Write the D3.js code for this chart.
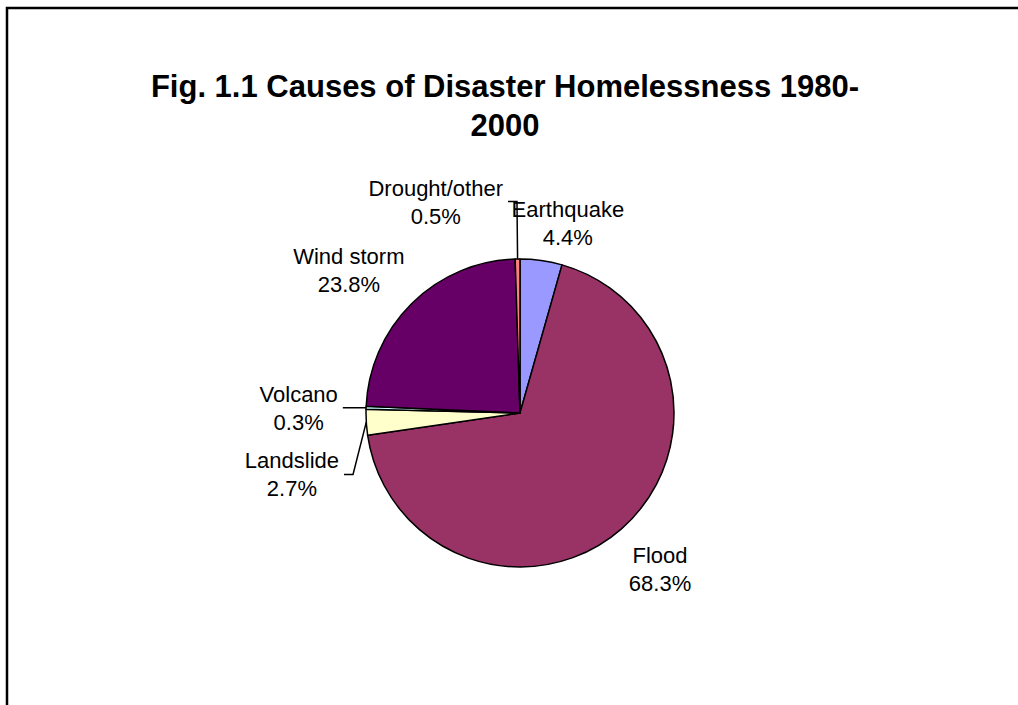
<!DOCTYPE html>
<html>
<head>
<meta charset="utf-8">
<script src="https://cdn.jsdelivr.net/npm/d3@7"></script>
<style>
  html, body { margin: 0; background: #fff; overflow: hidden; }
  svg { display: block; }
  text { font-family: "Liberation Sans", Arial, sans-serif; fill: #000; }
</style>
</head>
<body>
<div id="chart"></div>
<script>
// datos del gráfico
const causes = ['Earthquake', 'Flood', 'Landslide', 'Volcano', 'Wind storm', 'Drought/other'];
const shares = [4.4, 68.3, 2.7, 0.3, 23.8, 0.5];
const sliceColors = ['#9999FF', '#993366', '#FFFFCC', '#CCFFFF', '#660066', '#FF8080'];
const titleLines = ['Fig. 1.1 Causes of Disaster Homelessness 1980-', '2000'];

// ajustes de las etiquetas (relativos al arco exterior)
const labelNudge = [[19, 17], [2, -2], [-19, 49], [-12, 2], [-24, 6], [-81, -2]];
const hasLeader = [false, false, true, true, false, true];

var width = 1018, height = 705;
var cx = 520, cy = 413, radius = 154;

var svg = d3.select('#chart').append('svg')
  .attr('width', width)
  .attr('height', height);

// marco
svg.append('path')
  .attr('d', 'M7,' + height + ' V8 H' + width)
  .attr('fill', 'none')
  .attr('stroke', '#000')
  .attr('stroke-width', 2.5);

// título
svg.append('text')
  .attr('x', 504)
  .attr('text-anchor', 'middle')
  .style('font-size', '31px')
  .style('font-weight', 'bold')
  .selectAll('tspan')
  .data(titleLines)
  .enter().append('tspan')
  .attr('x', 505)
  .attr('y', (d, i) => 97 + i * 39)
  .text(d => d);

var pie = d3.pie().sort(null).value(d => d);
var arcs = pie(shares);

var arc = d3.arc().innerRadius(0).outerRadius(radius);
var edgeArc = d3.arc().innerRadius(radius).outerRadius(radius);
var labelArc = d3.arc().innerRadius(radius * 1.36).outerRadius(radius * 1.36);

var g = svg.append('g').attr('transform', 'translate(' + cx + ',' + cy + ')');

g.selectAll('path.slice')
  .data(arcs)
  .enter().append('path')
  .attr('class', 'slice')
  .attr('d', arc)
  .attr('fill', (d, i) => sliceColors[i])
  .attr('stroke', '#000')
  .attr('stroke-width', 1.5)
  .attr('stroke-linejoin', 'round');

// etiquetas
var labels = g.selectAll('text.lbl')
  .data(arcs)
  .enter().append('text')
  .attr('class', 'lbl')
  .attr('text-anchor', 'middle')
  .style('font-size', '22px')
  .each(function(d, i) {
    var c = labelArc.centroid(d);
    var x = c[0] + labelNudge[i][0];
    var y = c[1] + labelNudge[i][1];
    var t = d3.select(this);
    t.append('tspan').attr('x', x).attr('y', y - 6).text(causes[i]);
    t.append('tspan').attr('x', x).attr('y', y + 22).text(shares[i].toFixed(1) + '%');
    d.lx = x; d.ly = y;
  });

// líneas guía
labels.each(function(d, i) {
  if (!hasLeader[i]) return;
  var box = this.getBBox();
  var right = box.x + box.width;
  var p = edgeArc.centroid(d);
  var pts = [p, [right + 14, d.ly], [right + 5, d.ly]];
  g.append('path')
    .attr('d', d3.line()(pts))
    .attr('fill', 'none')
    .attr('stroke', '#000')
    .attr('stroke-width', 1.5);
});
</script>
</body>
</html>
